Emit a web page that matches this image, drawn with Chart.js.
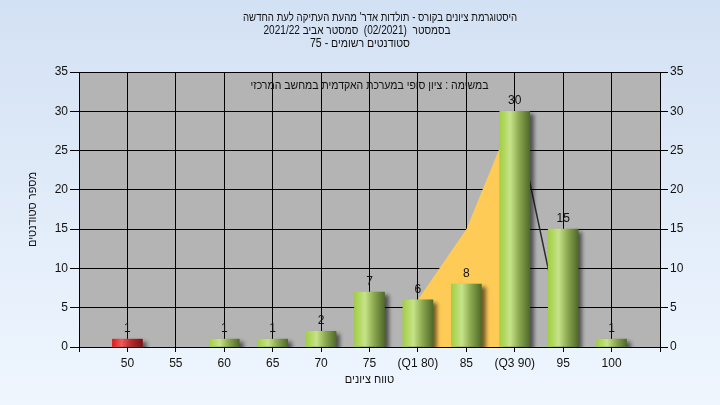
<!DOCTYPE html>
<html lang="he">
<head>
<meta charset="utf-8">
<title>היסטוגרמת ציונים</title>
<script src="https://cdn.jsdelivr.net/npm/chart.js@4/dist/chart.umd.min.js"></script>
<style>
    html, body { margin: 0; padding: 0; background: #e4edf9; }
    canvas { display: block; }
</style>
</head>
<body>
<canvas id="gradesChart" width="720" height="405"></canvas>
<script>
const gradeLabels = ['50', '55', '60', '65', '70', '75', '(Q1 80)', '85', '(Q3 90)', '95', '100'];
const studentCounts = [1, 0, 1, 1, 2, 7, 6, 8, 30, 15, 1];
const quartileArea = [null, null, null, null, null, null, 6, 15, 30, null, null];
const dropLine = [null, null, null, null, null, null, null, null, 30, 1, null];
const yTicks = [0, 5, 10, 15, 20, 25, 30, 35];

const titleLines = [
    {text: 'היסטוגרמת ציונים בקורס - תולדות אדר\' מהעת העתיקה לעת החדשה', x: 380, y: 21, width: 274},
    {text: 'בסמסטר  (02/2021)  סמסטר אביב 2021/22', x: 357, y: 34, width: 187},
    {text: 'סטודנטים רשומים - 75', x: 360, y: 47, width: 100},
];
const innerTitle = {text: 'במשימה : ציון סופי במערכת האקדמית במחשב המרכזי', width: 238};

const FONT = '"Liberation Sans", Arial, "DejaVu Sans", sans-serif';

// empty slot on each side so the first/last grade sits one full step from the border
const pad = arr => [null, ...arr, null];
const labels = ['', ...gradeLabels, ''];

function barGradient(context) {
    const chart = context.chart;
    const xScale = chart.scales.x;
    const value = context.raw;
    if (!value) {
        return 'rgba(0,0,0,0)';
    }
    if (!xScale || !chart.chartArea) {
        return '#9cc64a';
    }
    const cx = xScale.getPixelForValue(context.dataIndex);
    const g = chart.ctx.createLinearGradient(cx - 15, 0, cx + 15, 0);
    if (context.dataIndex === 1) { // lowest grade is red
        g.addColorStop(0, '#e01818');
        g.addColorStop(0.3, '#f05a5a');
        g.addColorStop(0.65, '#b22626');
        g.addColorStop(1, '#7a1414');
    } else {
        g.addColorStop(0, '#a2cf42');
        g.addColorStop(0.35, '#c6e38a');
        g.addColorStop(0.65, '#8aa84e');
        g.addColorStop(1, '#506a2a');
    }
    return g;
}

// Hebrew text in the original is set in a narrower face, squeeze it to the measured width
function drawSqueezed(ctx, text, cx, y, width) {
    const natural = ctx.measureText(text).width;
    const k = Math.min(1, width / natural);
    ctx.save();
    ctx.translate(cx, y);
    ctx.scale(k, 1);
    ctx.fillText(text, 0, 0);
    ctx.restore();
}

const backgroundPlugin = {
    id: 'background',
    beforeDraw(chart) {
        const {ctx, chartArea} = chart;
        const bg = ctx.createLinearGradient(0, 0, 0, chart.height);
        bg.addColorStop(0, '#d3e1f4');
        bg.addColorStop(1, '#eff6fe');
        ctx.save();
        ctx.fillStyle = bg;
        ctx.fillRect(0, 0, chart.width, chart.height);
        ctx.fillStyle = '#b4b4b4';
        ctx.fillRect(chartArea.left, chartArea.top, chartArea.right - chartArea.left, chartArea.bottom - chartArea.top);
        ctx.restore();
    },
    afterDraw(chart) {
        const {ctx, chartArea} = chart;
        ctx.save();
        ctx.fillStyle = '#111';
        ctx.font = '12px ' + FONT;
        ctx.textAlign = 'center';
        ctx.direction = 'rtl';
        titleLines.forEach(line => drawSqueezed(ctx, line.text, line.x, line.y, line.width));
        drawSqueezed(ctx, innerTitle.text, (chartArea.left + chartArea.right) / 2, chartArea.top + 17, innerTitle.width);
        ctx.restore();
    }
};

const shadowPlugin = {
    id: 'barShadow',
    beforeDatasetDraw(chart, args) {
        if (args.index !== 0) return;
        const ctx = chart.ctx;
        ctx.save();
        ctx.shadowColor = 'rgba(0, 0, 0, 0.55)';
        ctx.shadowBlur = 4;
        ctx.shadowOffsetX = 4;
        ctx.shadowOffsetY = 3;
    },
    afterDatasetDraw(chart, args) {
        if (args.index !== 0) return;
        chart.ctx.restore();
    }
};

const valueLabelPlugin = {
    id: 'valueLabels',
    afterDatasetsDraw(chart) {
        const ctx = chart.ctx;
        const meta = chart.getDatasetMeta(0);
        ctx.save();
        ctx.fillStyle = '#111';
        ctx.font = '12px ' + FONT;
        ctx.textAlign = 'center';
        meta.data.forEach((bar, i) => {
            const value = chart.data.datasets[0].data[i];
            if (value) {
                ctx.fillText(String(value), bar.x, bar.y - 7);
            }
        });
        ctx.restore();
    }
};

const tickFont = {family: FONT, size: 12};

new Chart(document.getElementById('gradesChart'), {
    type: 'bar',
    data: {
        labels: labels,
        datasets: [
            {
                data: pad(studentCounts),
                backgroundColor: barGradient,
                borderWidth: 0,
                barThickness: 30,
                order: 0,
            },
            {
                type: 'line',
                data: pad(quartileArea),
                backgroundColor: '#ffcb57',
                borderWidth: 0,
                pointRadius: 0,
                fill: 'origin',
                tension: 0,
                order: 2,
            },
            {
                type: 'line',
                data: pad(dropLine),
                borderColor: '#2b2b2b',
                borderWidth: 1.5,
                pointRadius: 0,
                fill: false,
                tension: 0,
                order: 1,
            },
        ]
    },
    options: {
        responsive: false,
        devicePixelRatio: 1,
        animation: false,
        layout: {padding: {top: 72, left: 0, right: 0, bottom: 0}},
        plugins: {
            legend: {display: false},
            tooltip: {enabled: false},
            title: {display: false},
        },
        scales: {
            x: {
                offset: false,
                grid: {offset: false, color: '#000', lineWidth: 1, tickLength: 5, tickColor: '#000'},
                border: {color: '#000'},
                ticks: {color: '#111', font: tickFont, padding: 4, autoSkip: false, maxRotation: 0},
                title: {
                    display: true,
                    text: 'טווח ציונים',
                    color: '#111',
                    font: {family: FONT, size: 11},
                    padding: {top: 0, bottom: 18},
                },
                afterFit: scale => { scale.height = 58; },
            },
            y: {
                position: 'left',
                min: 0,
                max: 35,
                afterBuildTicks: scale => { scale.ticks = yTicks.map(v => ({value: v})); },
                grid: {color: '#000', lineWidth: 1, tickLength: 9, tickColor: '#000'},
                border: {color: '#000'},
                ticks: {color: '#111', font: tickFont, padding: 2},
                title: {
                    display: true,
                    text: 'מספר סטודנטים',
                    color: '#111',
                    font: {family: FONT, size: 11},
                    padding: {top: 26, bottom: 0},
                },
                afterFit: scale => { scale.width = 79; },
            },
            y2: {
                position: 'right',
                min: 0,
                max: 35,
                afterBuildTicks: scale => { scale.ticks = yTicks.map(v => ({value: v})); },
                grid: {drawOnChartArea: false, tickLength: 8, tickColor: '#000'},
                border: {color: '#000'},
                ticks: {color: '#111', font: tickFont, padding: 2},
                afterFit: scale => { scale.width = 60; },
            },
        }
    },
    plugins: [backgroundPlugin, shadowPlugin, valueLabelPlugin]
});
</script>
</body>
</html>
